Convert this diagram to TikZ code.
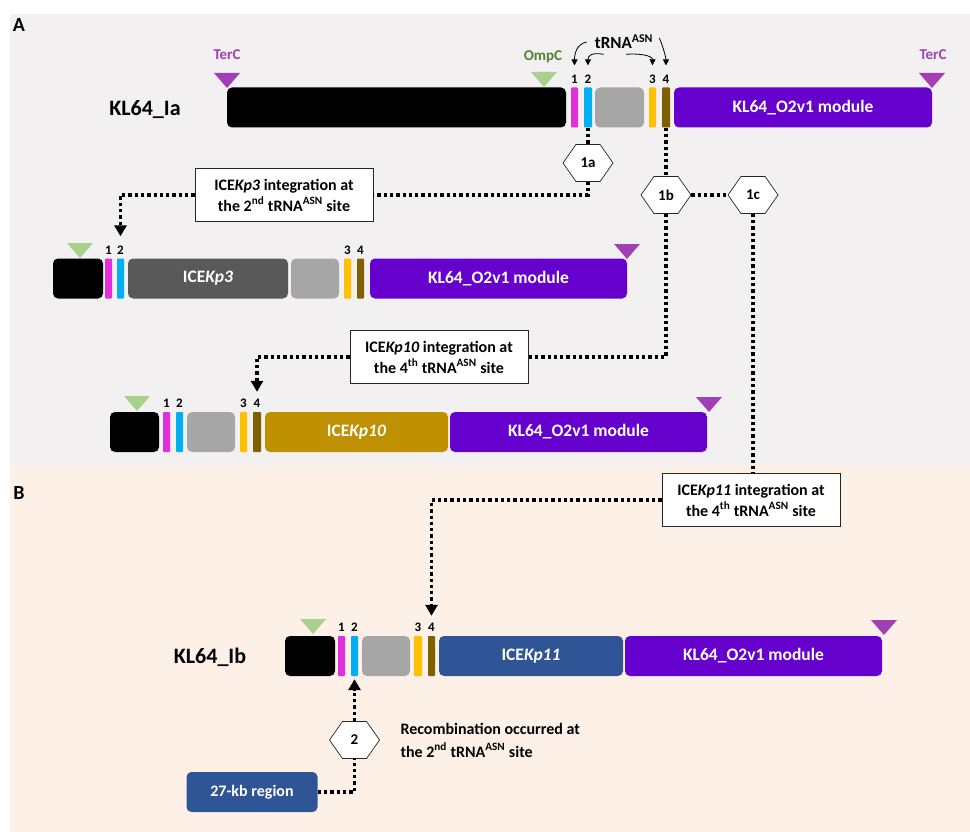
\documentclass[tikz,border=0pt]{standalone}
\usepackage{fontspec}
\setmainfont{Carlito}
\usetikzlibrary{arrows.meta,shapes.symbols,positioning}
\definecolor{panelA}{HTML}{F2F0F1}
\definecolor{panelB}{HTML}{FDF0E7}
\definecolor{site1}{HTML}{E22FDC}
\definecolor{site2}{HTML}{00B0F0}
\definecolor{site3}{HTML}{FFC000}
\definecolor{site4}{HTML}{7F6000}
\definecolor{modpurple}{HTML}{6600CC}
\definecolor{cellgray}{HTML}{A6A6A6}
\definecolor{icethree}{HTML}{595959}
\definecolor{iceten}{HTML}{BF9000}
\definecolor{iceeleven}{HTML}{2F5597}
\definecolor{tercpurple}{HTML}{A040B4}
\definecolor{ompcgreen}{HTML}{A9D18E}
\definecolor{ompctext}{HTML}{548235}
\tikzset{
  seg/.style={rounded corners=5pt, inner sep=0pt, minimum height=40pt, text=white,
    font=\fontsize{17.5}{20}\selectfont\bfseries},
  site/.style={seg, rounded corners=0.8pt},
  num/.style={inner sep=0pt, font=\fontsize{13}{15}\selectfont\bfseries},
  rowlabel/.style={font=\fontsize{22}{24}\selectfont\bfseries},
  infobox/.style={draw=black!85, line width=0.7pt, fill=white, minimum width=178pt,
    minimum height=53pt, align=center, inner sep=2pt, font=\fontsize{16}{21}\selectfont\bfseries},
  stage/.style={signal, signal to=east and west, signal pointer angle=110, draw=black!85,
    line width=0.7pt, fill=white, minimum width=50pt, minimum height=37pt, inner sep=0pt,
    font=\fontsize{15}{17}\selectfont\bfseries},
  link/.style={line width=3.3pt, dash pattern=on 3.3pt off 3pt},
  linkarrow/.style={link, -{Triangle[width=12pt,length=11pt]}},
  siteptr/.style={line width=0.8pt, -{Triangle[width=6pt,length=6pt]}}
}
\begin{document}
\begin{tikzpicture}[x=1pt,y=-1pt]
\useasboundingbox (0,0) rectangle (970,832);
% panels
\fill[panelA] (10,14) rectangle (970,465);
\fill[panelB] (10,465) rectangle (970,832);
\node[font=\fontsize{20}{22}\selectfont\bfseries] (labA) at (19,25) {A};
\node[font=\fontsize{20}{22}\selectfont\bfseries] (labB) at (19,493) {B};

% KL64_Ia
\node[rowlabel] (lab-ia) at (145,110) {KL64\_Ia};
\foreach \nm/\xa/\xb/\col/\txt in {blk/227/566/black/{}, gry/595/644/cellgray/{},
    mod/674/932/modpurple/{KL64\_O2v1 module}}
  \node[seg, fill=\col, minimum width={\xb pt-\xa pt}] (ia-\nm) at ({(\xa+\xb)/2},107.5) {\txt};
\foreach \i/\xa/\xb in {1/571/578, 2/584/592, 3/649/656, 4/662/670}{
  \node[site, fill=site\i, minimum width={\xb pt-\xa pt}] (ia-t\i) at ({(\xa+\xb)/2},107.5) {};
  \node[num, above=4pt of ia-t\i] (ia-n\i) {\i};
}

% ICEKp3 row
\foreach \nm/\xa/\xb/\col/\txt in {blk/53/103/black/{}, ice/128/288/icethree/{ICE\textit{Kp3}},
    gry/291/339/cellgray/{}, mod/370/627/modpurple/{KL64\_O2v1 module}}
  \node[seg, fill=\col, minimum width={\xb pt-\xa pt}] (kp3-\nm) at ({(\xa+\xb)/2},278.5) {\txt};
\foreach \i/\xa/\xb in {1/105/112, 2/117/124, 3/344/351, 4/357/364}{
  \node[site, fill=site\i, minimum width={\xb pt-\xa pt}] (kp3-t\i) at ({(\xa+\xb)/2},278.5) {};
  \node[num, above=4pt of kp3-t\i] (kp3-n\i) {\i};
}

% ICEKp10 row
\foreach \nm/\xa/\xb/\col/\txt in {blk/110/159/black/{}, gry/187/235/cellgray/{},
    ice/265/448/iceten/{ICE\textit{Kp10}}, mod/450/707/modpurple/{KL64\_O2v1 module}}
  \node[seg, fill=\col, minimum width={\xb pt-\xa pt}] (kp10-\nm) at ({(\xa+\xb)/2},432) {\txt};
\foreach \i/\xa/\xb in {1/163/170, 2/176/183, 3/240/247, 4/253/261}{
  \node[site, fill=site\i, minimum width={\xb pt-\xa pt}] (kp10-t\i) at ({(\xa+\xb)/2},432) {};
  \node[num, above=4pt of kp10-t\i] (kp10-n\i) {\i};
}

% KL64_Ib
\node[rowlabel] (lab-ib) at (210,657) {KL64\_Ib};
\foreach \nm/\xa/\xb/\col/\txt in {blk/285/335/black/{}, gry/362/410/cellgray/{},
    ice/439/623/iceeleven/{ICE\textit{Kp11}}, mod/625/882/modpurple/{KL64\_O2v1 module}}
  \node[seg, fill=\col, minimum width={\xb pt-\xa pt}] (ib-\nm) at ({(\xa+\xb)/2},656) {\txt};
\foreach \i/\xa/\xb in {1/338/345, 2/351/358, 3/414/422, 4/428/435}{
  \node[site, fill=site\i, minimum width={\xb pt-\xa pt}] (ib-t\i) at ({(\xa+\xb)/2},656) {};
  \node[num, above=4pt of ib-t\i] (ib-n\i) {\i};
}

% TerC and OmpC marks
\foreach \x/\y in {227/88, 932/88, 627/259, 709/412, 884/635}
  \fill[tercpurple] (\x-13,\y-15) -- (\x+13,\y-15) -- (\x,\y) -- cycle;
\foreach \x/\y in {544/87, 80/258, 137/411, 313/634}
  \fill[ompcgreen] (\x-13,\y-15) -- (\x+13,\y-15) -- (\x,\y) -- cycle;
\node[text=tercpurple, font=\fontsize{15}{17}\selectfont\bfseries] (terc-l) at (227,55) {TerC};
\node[text=tercpurple, font=\fontsize{15}{17}\selectfont\bfseries] (terc-r) at (933,55) {TerC};
\node[text=ompctext, font=\fontsize{15}{17}\selectfont\bfseries] (ompc) at (543,57) {OmpC};

% tRNA sites
\node[inner sep=1pt, font=\fontsize{17}{19}\selectfont\bfseries] (trna) at (624,42) {tRNA\textsuperscript{ASN}};
\draw[siteptr] ([xshift=-7pt]trna.west) .. controls +(-10,2) and +(0,-12) .. ([yshift=9pt]ia-n1.north);
\draw[siteptr] ([xshift=10pt,yshift=-4pt]trna.south west) .. controls +(-12,-2) and +(0,-10) .. ([yshift=9pt]ia-n2.north);
\draw[siteptr] ([xshift=2pt,yshift=-4pt]trna.south) .. controls +(12,-1) and +(0,-10) .. ([yshift=9pt]ia-n3.north);
\draw[siteptr] ([xshift=5pt,yshift=4pt]trna.east) .. controls +(3,6) and +(0,-8) .. ([yshift=9pt]ia-n4.north);

% integration steps
\node[stage] (h1a) at (588,163) {1a};
\node[stage] (h1b) at (666,195) {1b};
\node[stage] (h1c) at (753,195) {1c};
\node[stage] (h2) at (354.5,740) {2};
\node[infobox] (box1) at (284,195) {ICE\textit{Kp3} integration at\\the 2\textsuperscript{nd} tRNA\textsuperscript{ASN} site};
\node[infobox] (box2) at (439,357) {ICE\textit{Kp10} integration at\\the 4\textsuperscript{th} tRNA\textsuperscript{ASN} site};
\node[infobox] (box3) at (751,500) {ICE\textit{Kp11} integration at\\the 4\textsuperscript{th} tRNA\textsuperscript{ASN} site};
\node[seg, fill=iceeleven, minimum width=131pt, font=\fontsize{16}{18}\selectfont\bfseries] (kb27) at (252,792) {27-kb region};
\node[anchor=west, align=left, font=\fontsize{16}{23}\selectfont\bfseries] (recomb) at (397,740)
  {Recombination occurred at\\the 2\textsuperscript{nd} tRNA\textsuperscript{ASN} site};

\draw[link] (ia-t2.south) -- (h1a.north);
\draw[link] (h1a.south) |- (box1.east);
\draw[linkarrow] (box1.west) -| ([yshift=22pt]kp3-t2.north);
\draw[link] (ia-t4.south) -- (h1b.north);
\draw[link] (h1b.east) -- (h1c.west);
\draw[link] (h1b.south) |- (box2.east);
\draw[linkarrow] (box2.west) -| ([yshift=20pt]kp10-t4.north);
\draw[link] (h1c.south) -- (h1c.south |- box3.north);
\draw[linkarrow] (box3.west) -| ([yshift=20pt]ib-t4.north);
\draw[link] (kb27.east) -| (h2.south);
\draw[linkarrow] (h2.north) -- ([yshift=-3pt]ib-t2.south);
\end{tikzpicture}
\end{document}
